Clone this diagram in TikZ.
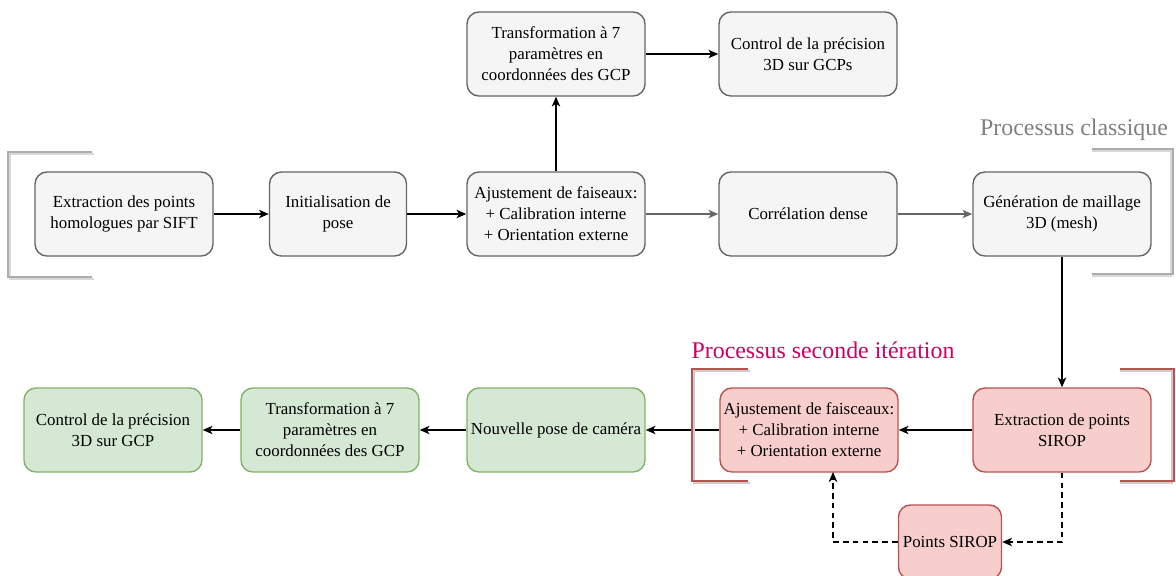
\documentclass[tikz,border=0pt]{standalone}
\usepackage{fontspec}
\setmainfont{Liberation Serif}
\usepackage{xcolor}
\usepackage{tikz}
\usetikzlibrary{arrows.meta}
\definecolor{boxgray}{HTML}{F5F5F5}
\definecolor{linegray}{HTML}{666666}
\definecolor{boxred}{HTML}{F8CECC}
\definecolor{linered}{HTML}{B85450}
\definecolor{boxgreen}{HTML}{D5E8D4}
\definecolor{linegreen}{HTML}{82B366}
\definecolor{titlered}{HTML}{CC0066}

\begin{document}
\begin{tikzpicture}[x=0.025cm, y=-0.025cm, >={Stealth[length=7pt,width=6pt,inset=2pt]},
    every node/.style={font=\fontsize{12}{14.9}\selectfont, align=center},
    graybox/.style={draw=linegray, line width=1pt, fill=boxgray, rounded corners=0.3cm, minimum width=4.45cm, minimum height=2.1cm, inner sep=1pt},
    redbox/.style={graybox, draw=linered, fill=boxred},
    greenbox/.style={graybox, draw=linegreen, fill=boxgreen},
    flow/.style={->, line width=1.1pt},
    bracket/.style={line width=1.2pt}]
    \useasboundingbox (0,0) rectangle (1176,575);

    % Classic process
    \node[graybox] (sift) at (124,214) {Extraction des points\\homologues par SIFT};
    \node[graybox, minimum width=3.425cm] (init) at (338,214) {Initialisation de\\pose};
    \node[graybox] (ajust) at (556,214) {Ajustement de faiseaux:\\+ Calibration interne\\+ Orientation externe};
    \node[graybox] (correl) at (808,214) {Corrélation dense};
    \node[graybox] (mesh) at (1062,214) {Génération de maillage\\3D (mesh)};
    \node[graybox] (transf) at (556,54) {Transformation à 7\\paramètres en\\coordonnées des GCP};
    \node[graybox] (ctrl) at (808,54) {Control de la précision\\3D sur GCPs};

    \draw[flow] (sift) -- (init);
    \draw[flow] (init) -- (ajust);
    \draw[flow, linegray] (ajust) -- (correl);
    \draw[flow, linegray] (correl) -- (mesh);
    \draw[flow] (ajust) -- (transf);
    \draw[flow] (transf) -- (ctrl);

    % Second iteration
    \node[redbox] (sirop) at (1062,430) {Extraction de points\\SIROP};
    \node[redbox] (ajust2) at (809,430) {Ajustement de faisceaux:\\+ Calibration interne\\+ Orientation externe};
    \node[greenbox] (pose) at (556,430) {Nouvelle pose de caméra};
    \node[greenbox] (transf2) at (330,430) {Transformation à 7\\paramètres en\\coordonnées des GCP};
    \node[greenbox] (ctrl2) at (113,430) {Control de la précision\\3D sur GCP};
    \node[redbox, minimum width=2.575cm, minimum height=1.85cm] (pts) at (950,542) {Points SIROP};
    \coordinate (ajustin) at (833,472);

    \draw[flow] (mesh) -- (sirop);
    \draw[flow] (sirop) -- (ajust2);
    \draw[flow] (ajust2) -- (pose);
    \draw[flow] (pose) -- (transf2);
    \draw[flow] (transf2) -- (ctrl2);
    \draw[flow, dash pattern=on 4pt off 3pt] (sirop.south) |- (pts.east);
    \draw[flow, dash pattern=on 4pt off 3pt] (pts.west) -| (ajustin);

    % Brackets and titles
    \draw[bracket, gray!30] (94,154) -- (10,154) -- (10,279) -- (94,279);
    \draw[bracket, gray!65] (92,152) -- (8,152) -- (8,277) -- (92,277);
    \draw[bracket, gray!30] (1092,151) -- (1171,151) -- (1171,276) -- (1092,276);
    \draw[bracket, gray!65] (1092,149) -- (1173,149) -- (1173,274) -- (1092,274);
    \draw[bracket, gray!40] (750,371) -- (694,371) -- (694,483) -- (750,483);
    \draw[bracket, linered] (748,369) -- (692,369) -- (692,481) -- (748,481);
    \draw[bracket, gray!40] (1120,371) -- (1172,371) -- (1172,483) -- (1120,483);
    \draw[bracket, linered] (1120,369) -- (1174,369) -- (1174,481) -- (1120,481);
    \node[text=gray, font=\fontsize{17}{20}\selectfont] (classic) at (1074,130) {Processus classique};
    \node[text=titlered, font=\fontsize{17}{20}\selectfont] (second) at (823,350) {Processus seconde itération};
\end{tikzpicture}
\end{document}
